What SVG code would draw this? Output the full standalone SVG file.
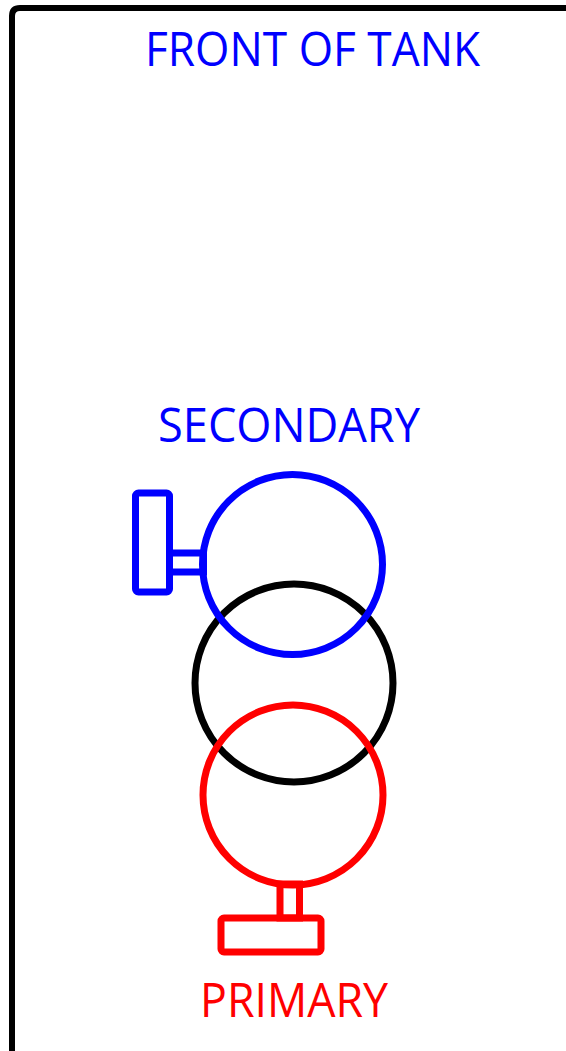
<svg xmlns="http://www.w3.org/2000/svg" width="566" height="1051" viewBox="0 0 566 1051">
<style>
.lbl{font-family:"Open Sans","Noto Sans","Liberation Sans",sans-serif;font-size:48px;}
.blue{fill:none;stroke:#0000ff;stroke-width:7;}
.red{fill:none;stroke:#ff0000;stroke-width:7;}
.blk{fill:none;stroke:#000;stroke-width:7;}
</style>
<rect width="566" height="1051" fill="#fff"/>
<g id="tank">
<path d="M12 1060 V16 Q12 8 20 8 H580" fill="none" stroke="#000" stroke-width="6"/>
</g>
<g id="front-label"><text class="lbl" x="145" y="66" fill="#0000ff" textLength="335" lengthAdjust="spacingAndGlyphs">FRONT OF TANK</text></g>
<g id="secondary-label"><text class="lbl" x="158" y="442" fill="#0000ff" textLength="262" lengthAdjust="spacingAndGlyphs">SECONDARY</text></g>
<g id="primary-label"><text class="lbl" x="200" y="1017" fill="#ff0000" textLength="188" lengthAdjust="spacingAndGlyphs">PRIMARY</text></g>
<g id="core"><circle class="blk" cx="294" cy="683" r="99"/></g>
<g id="secondary">
<circle class="blue" cx="292.5" cy="564.5" r="90"/>
<rect class="blue" x="135.5" y="493" width="34" height="99" rx="3"/>
<rect class="blue" x="169.5" y="553" width="34" height="19"/>
</g>
<g id="primary">
<circle class="red" cx="293" cy="795" r="90"/>
<rect class="red" x="280" y="884" width="19.5" height="34"/>
<rect class="red" x="221" y="918" width="100" height="34" rx="3"/>
</g>
</svg>
